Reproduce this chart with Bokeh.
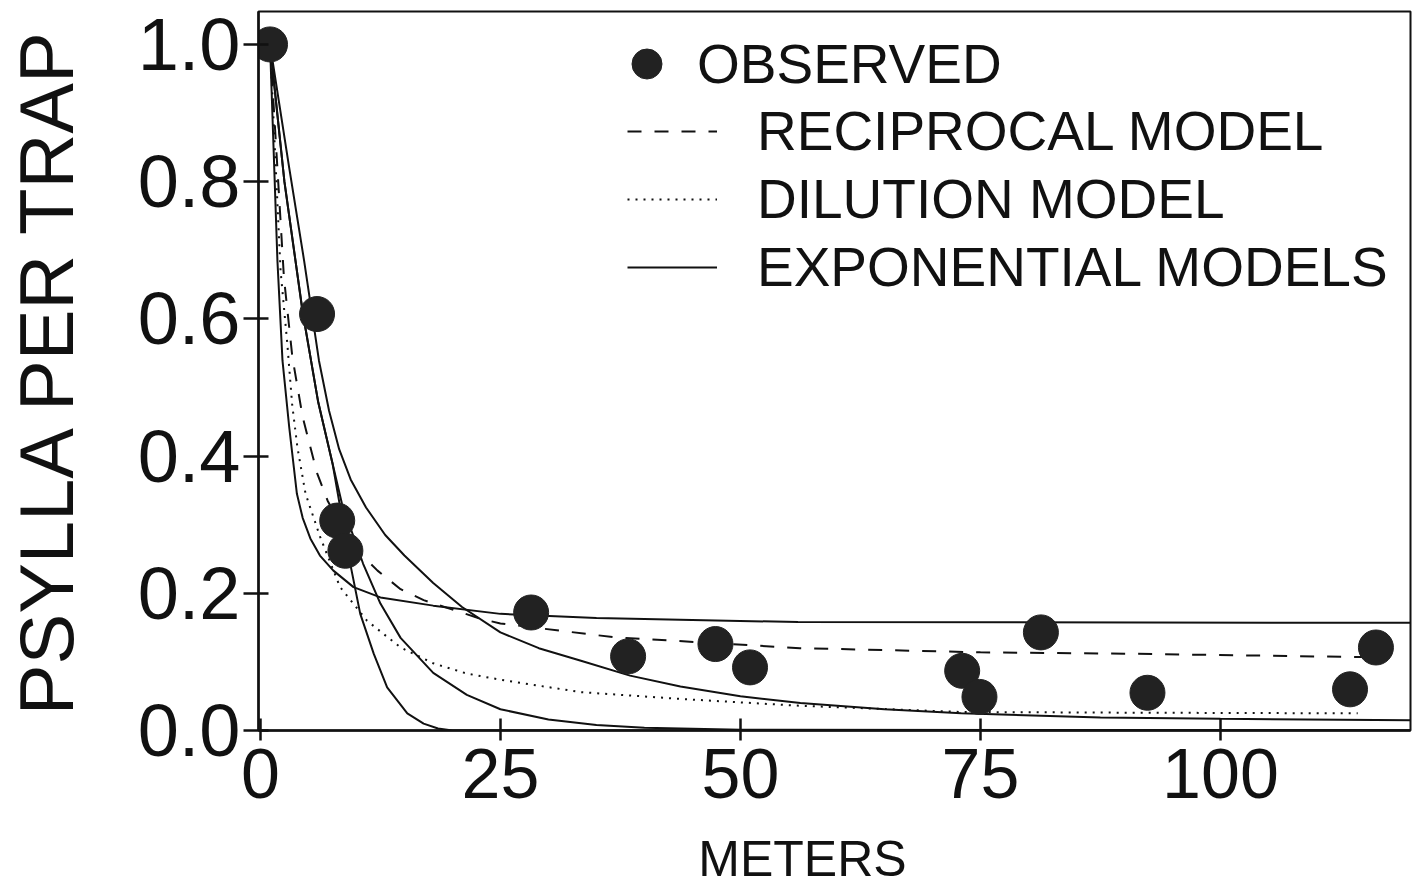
from bokeh.plotting import figure
from bokeh.models import Range1d, FixedTicker, NumeralTickFormatter, Legend, LegendItem, Label
from bokeh.layouts import column
from bokeh.embed import file_html
from bokeh.resources import INLINE

# observed data
obs_x = [1.0, 5.9, 8.0, 8.85, 28.2, 38.3, 47.4, 51.0, 73.1, 74.9, 81.3, 92.4, 113.5, 116.2]
obs_y = [1.0, 0.607, 0.306, 0.262, 0.172, 0.108, 0.126, 0.092, 0.087, 0.049, 0.143, 0.055, 0.060, 0.121]

# reciprocal model (dashed)
recip_x = [1, 2.45, 3.33, 4.4, 5.9, 7.0, 9.5, 12.2, 14.6, 17, 22.9, 25, 36.8, 56.2, 75, 90, 114.9]
recip_y = [1.0, 0.66, 0.544, 0.457, 0.375, 0.335, 0.27, 0.233, 0.206, 0.19, 0.163, 0.156, 0.136, 0.12, 0.114, 0.112, 0.107]

# dilution model (dotted)
dil_x = [1, 2.1, 2.8, 3.3, 3.85, 4.7, 6.25, 8.3, 11.1, 14.6, 18, 21.5, 25, 33.3, 43.75, 56.25, 73, 90, 114.3]
dil_y = [1.0, 0.67, 0.564, 0.476, 0.413, 0.345, 0.281, 0.209, 0.16, 0.121, 0.098, 0.083, 0.074, 0.056, 0.046, 0.036, 0.027, 0.026, 0.025]

# exponential models (solid)
exp1_x = [1, 2.5, 4.4, 6.0, 7.5, 8.5, 9.4, 10.4, 11.8, 13.2, 15.3, 17.0, 18.5, 20.0, 119.8]
exp1_y = [1.0, 0.80, 0.61, 0.48, 0.39, 0.31, 0.24, 0.17, 0.112, 0.063, 0.025, 0.01, 0.003, 0.0, 0.0]

exp2_x = [1, 2.5, 4.4, 6.0, 7.5, 8.5, 10.7, 12.5, 14.6, 18, 21.5, 25, 30, 35, 40, 50, 119.8]
exp2_y = [1.0, 0.80, 0.61, 0.48, 0.39, 0.33, 0.243, 0.185, 0.135, 0.084, 0.052, 0.031, 0.016, 0.008, 0.004, 0.001, 0.0]

exp3_x = [1, 3, 4.55, 6.1, 7.15, 8.2, 9.4, 11, 13, 15, 18, 21, 25, 29, 33.3, 38.5, 43.75, 50, 56.25, 65, 73, 87.5, 100, 119.8]
exp3_y = [1.0, 0.82, 0.685, 0.539, 0.466, 0.41, 0.366, 0.325, 0.285, 0.255, 0.215, 0.18, 0.143, 0.12, 0.102, 0.08, 0.064, 0.05, 0.04, 0.031, 0.025, 0.019, 0.017, 0.015]

exp4_x = [1, 1.77, 2.3, 3.0, 3.8, 4.4, 5.2, 6.2, 7.6, 9.7, 12.5, 18, 25, 35, 56, 119.8]
exp4_y = [1.0, 0.685, 0.539, 0.442, 0.345, 0.31, 0.28, 0.255, 0.233, 0.209, 0.194, 0.182, 0.17, 0.164, 0.158, 0.157]

x_ticks = [0, 25, 50, 75, 100]
y_ticks = [0.0, 0.2, 0.4, 0.6, 0.8, 1.0]

FONT = "Liberation Sans"
INK = "#111111"

p = figure(width=1413, height=828,
           x_range=Range1d(-0.2, 119.8), y_range=Range1d(0, 1.048),
           output_backend="svg", toolbar_location=None,
           min_border_left=258, min_border_right=3, min_border_top=11, min_border_bottom=98)

p.xgrid.visible = False
p.ygrid.visible = False
p.outline_line_color = INK
p.outline_line_width = 2
p.background_fill_color = "white"
p.border_fill_color = "white"

lw = 2
r_recip = p.line(recip_x, recip_y, line_width=lw, line_color=INK, line_dash="14 13")
r_dil = p.line(dil_x, dil_y, line_width=lw, line_color=INK, line_dash="2 6")
r_e1 = p.line(exp1_x, exp1_y, line_width=lw, line_color=INK)
r_e2 = p.line(exp2_x, exp2_y, line_width=lw, line_color=INK)
r_e3 = p.line(exp3_x, exp3_y, line_width=lw, line_color=INK)
r_e4 = p.line(exp4_x, exp4_y, line_width=lw, line_color=INK)
r_obs = p.scatter(obs_x, obs_y, size=35, fill_color="#222222", line_color="#222222")

# axes
for ax in (p.xaxis[0], p.yaxis[0]):
    ax.axis_line_color = INK
    ax.axis_line_width = 2.5
    ax.major_tick_line_color = INK
    ax.major_tick_line_width = 2.5
    ax.minor_tick_line_color = None
    ax.major_label_text_font = FONT
    ax.major_label_text_color = INK
    ax.axis_label_text_font = FONT
    ax.axis_label_text_font_style = "normal"
    ax.axis_label_text_color = INK

p.xaxis.ticker = FixedTicker(ticks=x_ticks)
p.yaxis.ticker = FixedTicker(ticks=y_ticks)
p.yaxis.formatter = NumeralTickFormatter(format="0.0")

p.xaxis.major_tick_in = 12
p.xaxis.major_tick_out = 10
p.yaxis.major_tick_in = 10
p.yaxis.major_tick_out = 15

p.xaxis.major_label_text_font_size = "70px"
p.yaxis.major_label_text_font_size = "74px"
p.xaxis.major_label_standoff = 8
p.yaxis.major_label_standoff = 3

p.yaxis.axis_label = "PSYLLA PER TRAP"
p.yaxis.axis_label_text_font_size = "76px"
p.yaxis.axis_label_standoff = 46

common = dict(padding=0, margin=0, spacing=0, border_line_alpha=0,
              background_fill_alpha=0, label_text_font=FONT,
              label_text_font_size="55px", label_text_color=INK)

leg1 = Legend(items=[LegendItem(label="OBSERVED", renderers=[r_obs])],
              location=(351, 629), glyph_width=75, glyph_height=75,
              label_height=75, label_standoff=13, **common)
leg2 = Legend(items=[LegendItem(label="RECIPROCAL MODEL", renderers=[r_recip]),
                     LegendItem(label="DILUTION MODEL", renderers=[r_dil]),
                     LegendItem(label="EXPONENTIAL MODELS", renderers=[r_e4])],
              location=(369, 429), glyph_width=90, glyph_height=68,
              label_height=68, label_standoff=40, **common)
p.add_layout(leg1, "center")
p.add_layout(leg2, "center")

# x-axis title strip below the plot
p2 = figure(width=1413, frame_height=59, x_range=Range1d(0, 1), y_range=Range1d(0, 1),
            output_backend="svg", toolbar_location=None,
            x_axis_location=None, y_axis_location=None,
            min_border_left=0, min_border_right=0, min_border_top=0, min_border_bottom=0)
p2.xgrid.visible = False
p2.ygrid.visible = False
p2.outline_line_color = None
p2.background_fill_color = "white"
p2.border_fill_color = "white"
meters = Label(x=544, y=29, x_units="screen", y_units="screen", text="METERS",
               text_align="center", text_baseline="alphabetic",
               text_font=FONT, text_font_size="50px", text_color=INK)
p2.add_layout(meters)

layout = column(p, p2, spacing=0)
open("out.html", "w").write(file_html(layout, INLINE))
